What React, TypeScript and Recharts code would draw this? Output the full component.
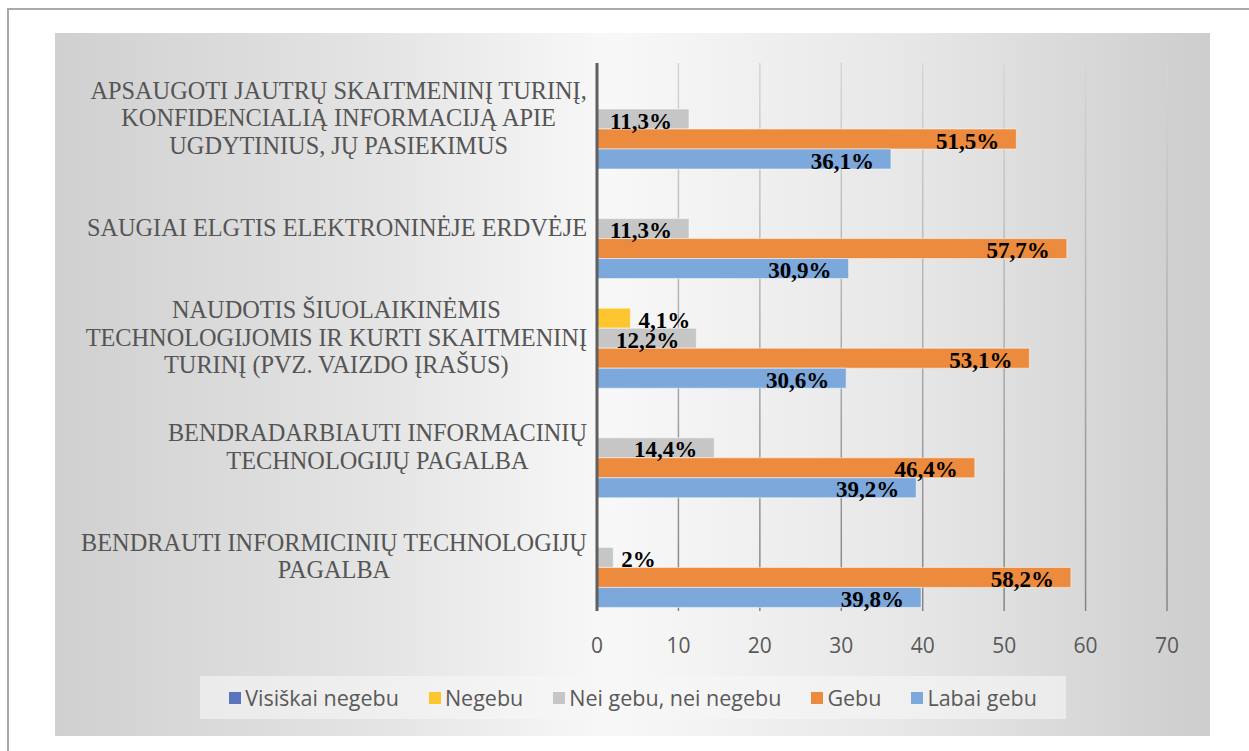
import React from "react";
import { BarChart, Bar, XAxis, YAxis, CartesianGrid, LabelList } from "recharts";

// categories, top to bottom, with the line breaks used in the axis labels
const categoryLines: string[][] = [
    ["APSAUGOTI JAUTRŲ SKAITMENINĮ TURINĮ,", "KONFIDENCIALIĄ INFORMACIJĄ APIE", "UGDYTINIUS, JŲ PASIEKIMUS"],
    ["SAUGIAI ELGTIS ELEKTRONINĖJE ERDVĖJE"],
    ["NAUDOTIS ŠIUOLAIKINĖMIS", "TECHNOLOGIJOMIS IR KURTI SKAITMENINĮ", "TURINĮ (PVZ. VAIZDO ĮRAŠUS)"],
    ["BENDRADARBIAUTI INFORMACINIŲ", "TECHNOLOGIJŲ PAGALBA"],
    ["BENDRAUTI INFORMICINIŲ TECHNOLOGIJŲ", "PAGALBA"],
];
const categories = categoryLines.map((l) => l.join(" "));

const visiskaiNegebu = [0, 0, 0, 0, 0];
const negebu = [0, 0, 4.1, 0, 0];
const neiGebu = [11.3, 11.3, 12.2, 14.4, 2];
const gebu = [51.5, 57.7, 53.1, 46.4, 58.2];
const labaiGebu = [36.1, 30.9, 30.6, 39.2, 39.8];

const xTicks = [0, 10, 20, 30, 40, 50, 60, 70];

const series = [
    { key: "visiskai", name: "Visiškai negebu", values: visiskaiNegebu, color: "#5a75bd" },
    { key: "negebu", name: "Negebu", values: negebu, color: "#fdc62f" },
    { key: "nei", name: "Nei gebu, nei negebu", values: neiGebu, color: "#c6c6c6" },
    { key: "gebu", name: "Gebu", values: gebu, color: "#ec8a3e" },
    { key: "labai", name: "Labai gebu", values: labaiGebu, color: "#7ca8dc" },
];

const data = categories.map((c, i) => {
    const row: any = { category: c };
    series.forEach((s) => (row[s.key] = s.values[i]));
    return row;
});

let ctx: CanvasRenderingContext2D | null = null;
const measure = (text: string, font: string) => {
    if (!ctx) ctx = document.createElement("canvas").getContext("2d");
    if (!ctx) return text.length * 12;
    ctx.font = font;
    return ctx.measureText(text).width;
};

const catFont = "24.3px 'Liberation Serif'";
const labelFont = "bold 23px 'Liberation Serif'";

const CategoryTick = (props: any) => {
    const { x, y, payload } = props;
    const idx = categories.indexOf(payload.value);
    const lines = categoryLines[idx] || [payload.value];
    const w = Math.max(...lines.map((l) => measure(l, catFont)));
    const cx = x - w / 2;
    const lh = 27.5;
    const y0 = y - ((lines.length - 1) * lh) / 2;
    return (
        <g>
            {lines.map((l, i) => (
                <text key={i} x={cx} y={y0 + i * lh} textAnchor="middle" dominantBaseline="central"
                    fill="#555555" fontFamily="'Liberation Serif'" fontSize={24.3}>
                    {l}
                </text>
            ))}
        </g>
    );
};

const renderLabel = (props: any) => {
    const { x, y, width, height, value } = props;
    const v = Number(value);
    if (!v) return null;
    const text = `${String(v).replace(".", ",")}%`;
    const tw = measure(text, labelFont);
    const inside = width > tw + 24;
    const tx = inside ? x + width - 17 : x + width + 8;
    return (
        <text x={tx} y={y + height / 2 + 2} textAnchor={inside ? "end" : "start"} dominantBaseline="central"
            fill="#000" fontFamily="'Liberation Serif'" fontWeight="bold" fontSize={23}>
            {text}
        </text>
    );
};

export default function App() {
    return (
        <div style={{ position: "absolute", left: 0, top: 0, width: 1249, height: 751, overflow: "hidden", background: "#fff" }}>
            <div style={{ position: "absolute", left: 7, top: 8, width: 1250, height: 750, borderLeft: "2px solid #a9a9a9", borderTop: "2px solid #a9a9a9" }} />
            <div style={{
                position: "absolute", left: 55, top: 33, width: 1155, height: 703,
                background: "linear-gradient(90deg, #d0d0d0 0%, #e4e4e4 28%, #f8f8f8 48%, #e6e6e6 75%, #cdcdcd 100%)",
            }} />
            <div style={{ position: "absolute", left: 55, top: 33 }}>
                <BarChart width={1155} height={703} data={data} layout="vertical"
                    margin={{ top: 30, right: 43, bottom: 95, left: 0 }}
                    barCategoryGap={6} barGap={0}>
                    <defs>
                        <linearGradient id="gridGrad" gradientUnits="userSpaceOnUse" x1="0" y1="30" x2="0" y2="578">
                            <stop offset="0%" stopColor="#d6d6d6" />
                            <stop offset="100%" stopColor="#858585" />
                        </linearGradient>
                    </defs>
                    <CartesianGrid horizontal={false} stroke="url(#gridGrad)" strokeWidth={1.5} />
                    <XAxis type="number" domain={[0, 70]} ticks={xTicks} axisLine={false} tickLine={false}
                        tickSize={0} tickMargin={27} height={30}
                        tick={{ fill: "#595959", fontSize: 21, fontFamily: "'Open Sans'" }} />
                    <YAxis type="category" dataKey="category" width={542} tickLine={false} tickSize={0} tickMargin={10}
                        axisLine={{ stroke: "#5f5f5f", strokeWidth: 3 }} tick={<CategoryTick />} interval={0} />
                    {series.map((s) => (
                        <Bar key={s.key} dataKey={s.key} name={s.name} fill={s.color}
                            stroke="#ffffff" strokeOpacity={0.5} strokeWidth={1} isAnimationActive={false}>
                            <LabelList dataKey={s.key} content={renderLabel} />
                        </Bar>
                    ))}
                </BarChart>
            </div>
            <div style={{
                position: "absolute", left: 200, top: 676, width: 866, height: 43,
                background: "rgba(246,246,246,0.6)", display: "flex", alignItems: "center", justifyContent: "center",
                gap: 30, fontFamily: "'Open Sans'", fontSize: 21.5, color: "#595959",
            }}>
                {series.map((s) => (
                    <div key={s.key} style={{ display: "flex", alignItems: "center" }}>
                        <span style={{ display: "inline-block", width: 12, height: 12, background: s.color, marginRight: 4 }} />
                        <span>{s.name}</span>
                    </div>
                ))}
            </div>
        </div>
    );
}
